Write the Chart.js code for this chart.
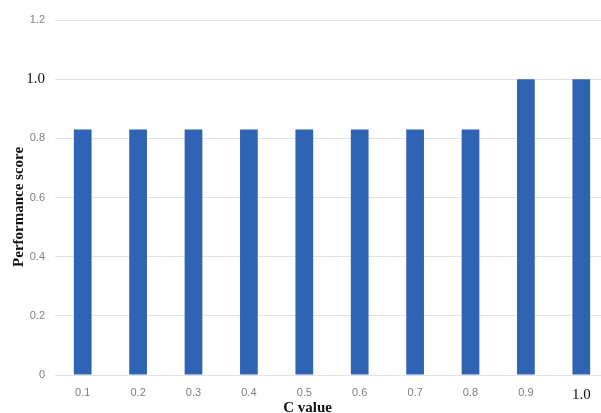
<!DOCTYPE html>
<html>
<head>
<meta charset="utf-8">
<script src="https://cdn.jsdelivr.net/npm/chart.js@4/dist/chart.umd.min.js"></script>
<style>
  html, body { margin: 0; padding: 0; background: #fff; overflow: hidden; }
  #wrap { width: 610px; height: 413px; position: relative; }
</style>
</head>
<body>
<div id="wrap"><canvas id="chart"></canvas></div>
<script>
const cValues = ['0.1', '0.2', '0.3', '0.4', '0.5', '0.6', '0.7', '0.8', '0.9', '1.0']
const scores = [0.83, 0.83, 0.83, 0.83, 0.83, 0.83, 0.83, 0.83, 1.0, 1.0]
const yTicks = [0, 0.2, 0.4, 0.6, 0.8, 1.0, 1.2]

const sansTick = { family: 'Arial, "Liberation Sans", sans-serif', size: 11 }
const serifTick = { family: '"Times New Roman", "Liberation Serif", serif', size: 15 }
const titleFont = { family: '"Times New Roman", "Liberation Serif", serif', size: 15, weight: 'bold' }
const grey = '#7f7f7f'

const ctx = document.getElementById('chart').getContext('2d')

// titles in the original sit a little off the plot centre, trailing spaces nudge them
const chart = new Chart(ctx, {
    type: 'bar',
    data: {
        labels: cValues,
        datasets: [{
            label: 'Performance score',
            data: scores,
            backgroundColor: '#2f64b4',
            borderWidth: 0,
            barPercentage: 0.32,
            categoryPercentage: 1.0
        }]
    },
    options: {
        responsive: true,
        maintainAspectRatio: false,
        animation: false,
        layout: { padding: { top: 20, right: 1, left: 0, bottom: 0 } },
        plugins: {
            legend: { display: false },
            tooltip: { enabled: false }
        },
        scales: {
            x: {
                grid: { display: false },
                border: { display: false },
                ticks: {
                    padding: 3,
                    color: (c) => c.index === 9 ? '#111' : grey,
                    font: (c) => c.index === 9 ? serifTick : sansTick
                },
                title: {
                    display: true,
                    text: 'C value' + ' '.repeat(13),
                    color: '#111',
                    font: titleFont,
                    padding: { top: 0, bottom: -4 }
                },
                afterFit: (scale) => { scale.height = 38 }
            },
            y: {
                min: 0,
                max: 1.2,
                afterBuildTicks: (scale) => { scale.ticks = yTicks.map(v => ({ value: v })) },
                grid: { color: '#e3e3e3', lineWidth: 1, drawTicks: false },
                border: { display: false },
                ticks: {
                    padding: 10,
                    color: (c) => c.tick && c.tick.value === 1 ? '#111' : grey,
                    font: (c) => c.tick && c.tick.value === 1 ? serifTick : sansTick,
                    callback: (v) => v === 0 ? '0' : Number(v).toFixed(1)
                },
                title: {
                    display: true,
                    text: 'Performance score' + ' '.repeat(5),
                    color: '#111',
                    font: titleFont,
                    padding: { top: 10, bottom: 4 }
                },
                afterFit: (scale) => { scale.width = 55 }
            }
        }
    }
})
</script>
</body>
</html>
